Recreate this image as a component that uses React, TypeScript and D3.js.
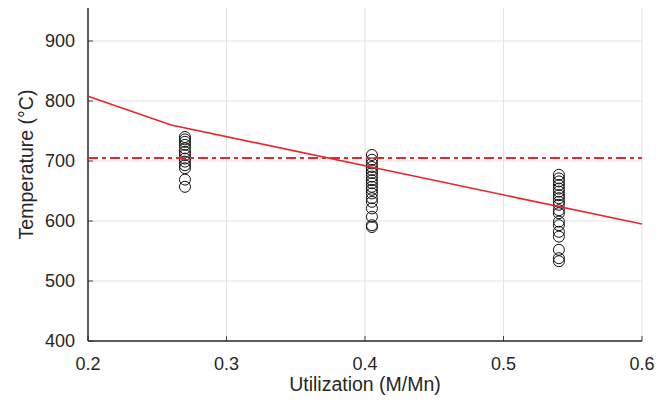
import React from "react";
import * as d3 from "d3";

const width = 669;
const height = 404;
const margin = { top: 8, right: 27, bottom: 63, left: 88 };

const xTicks = [0.2, 0.3, 0.4, 0.5, 0.6];
const yTicks = [400, 500, 600, 700, 800, 900];

// measured temperatures at three utilization levels
const util1 = 0.27;
const temps1 = [740, 736, 732, 727, 721, 715, 710, 704, 699, 693, 688, 669, 657];
const util2 = 0.405;
const temps2 = [710, 702, 696, 690, 685, 680, 674, 668, 663, 657, 652, 646, 638, 632, 621, 607, 593, 590];
const util3 = 0.54;
const temps3 = [677, 671, 666, 660, 654, 649, 643, 638, 632, 627, 618, 613, 599, 593, 582, 574, 552, 538, 533];

// limit curve and constant threshold
const curveX = [0.2, 0.26, 0.6];
const curveY = [808, 760, 595];
const threshold = 705;

const App = () => {
  const innerWidth = width - margin.left - margin.right;
  const innerHeight = height - margin.top - margin.bottom;

  const xScale = d3.scaleLinear().domain([0.2, 0.6]).range([0, innerWidth]);
  const yScale = d3.scaleLinear().domain([400, 955]).range([innerHeight, 0]);

  const points = [
    ...temps1.map((t) => [util1, t]),
    ...temps2.map((t) => [util2, t]),
    ...temps3.map((t) => [util3, t]),
  ];

  const line = d3
    .line<number>()
    .x((d, i) => xScale(curveX[i]))
    .y((d) => yScale(d));

  const font = "'Liberation Sans', Arial, sans-serif";

  return (
    <svg
      width={width}
      height={height}
      style={{ position: "absolute", left: 0, top: 0, background: "#fff" }}
      fontFamily={font}
    >
      <g transform={`translate(${margin.left},${margin.top})`}>
        {xTicks.slice(1).map((t) => (
          <line key={"gx" + t} x1={xScale(t)} x2={xScale(t)} y1={0} y2={innerHeight} stroke="#e3e3e3" />
        ))}
        {yTicks.slice(1).map((t) => (
          <line key={"gy" + t} x1={0} x2={innerWidth} y1={yScale(t)} y2={yScale(t)} stroke="#e3e3e3" />
        ))}

        {xTicks.map((t) => (
          <React.Fragment key={"xt" + t}>
            <line x1={xScale(t)} x2={xScale(t)} y1={innerHeight} y2={innerHeight - 5} stroke="#444" />
            <text x={xScale(t)} y={innerHeight + 29} textAnchor="middle" fontSize={18} fill="#262626">
              {t}
            </text>
          </React.Fragment>
        ))}
        {yTicks.map((t) => (
          <React.Fragment key={"yt" + t}>
            <line x1={0} x2={5} y1={yScale(t)} y2={yScale(t)} stroke="#444" />
            <text x={-13} y={yScale(t)} dy="0.35em" textAnchor="end" fontSize={18} fill="#262626">
              {t}
            </text>
          </React.Fragment>
        ))}

        <line x1={0} x2={0} y1={0} y2={innerHeight} stroke="#262626" strokeWidth={1.5} />
        <line x1={0} x2={innerWidth} y1={innerHeight} y2={innerHeight} stroke="#262626" strokeWidth={1.5} />

        {points.map((p, i) => (
          <circle key={i} cx={xScale(p[0])} cy={yScale(p[1])} r={5.5} fill="none" stroke="#111" strokeWidth={1} />
        ))}

        <path d={line(curveY) || ""} fill="none" stroke="#e8262b" strokeWidth={1.6} />
        <line
          x1={0}
          x2={innerWidth}
          y1={yScale(threshold)}
          y2={yScale(threshold)}
          stroke="#e8262b"
          strokeWidth={2}
          strokeDasharray="10 4 4 4"
        />

        <text x={innerWidth / 2} y={innerHeight + 50} textAnchor="middle" fontSize={19.5} fill="#262626">
          Utilization (M/Mn)
        </text>
        <text
          transform={`translate(${-55},${innerHeight / 2 - 10}) rotate(-90)`}
          textAnchor="middle"
          fontSize={19.5}
          fill="#262626"
        >
          Temperature (°C)
        </text>
      </g>
    </svg>
  );
};

export default App;
